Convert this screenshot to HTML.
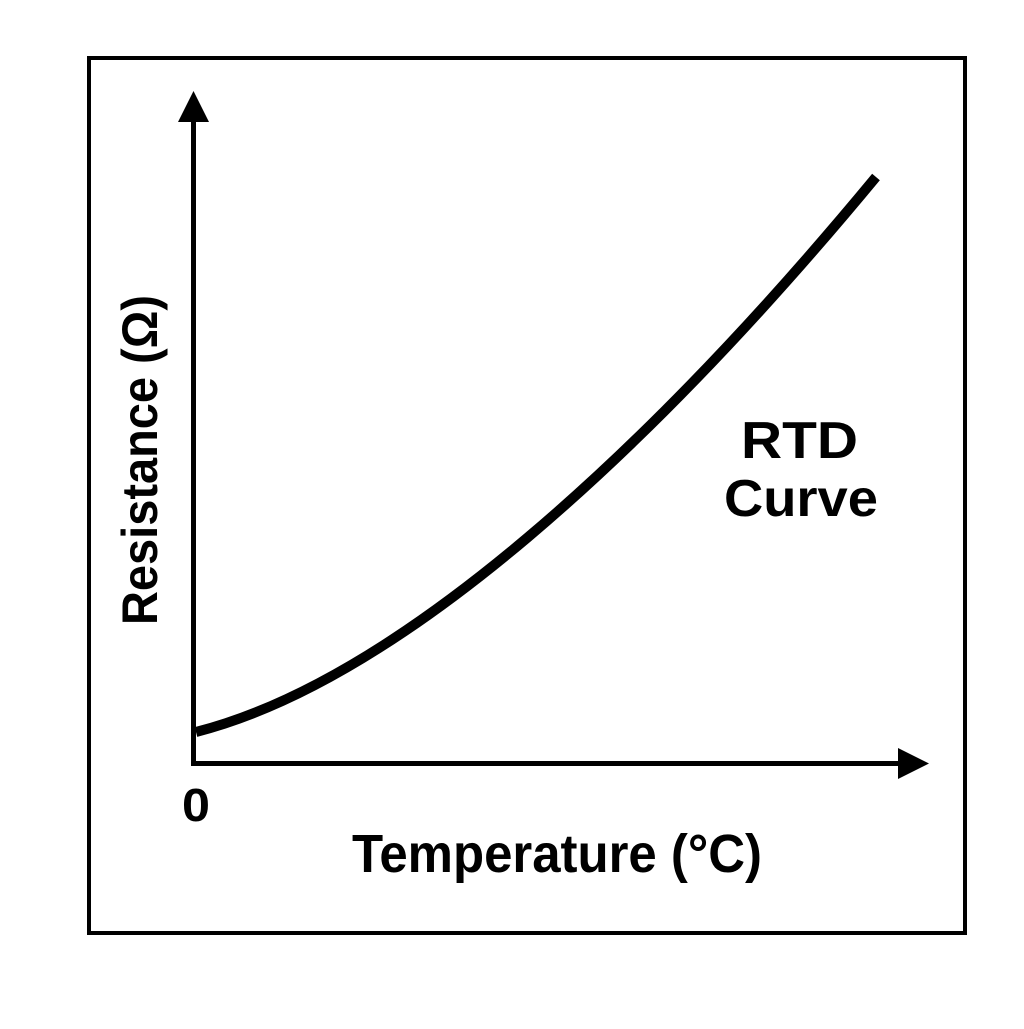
<!DOCTYPE html>
<html><head><style>html,body{margin:0;padding:0;background:#fff}</style></head>
<body>
<svg width="1024" height="1024" viewBox="0 0 1024 1024" xmlns="http://www.w3.org/2000/svg" font-family="Liberation Sans, sans-serif" font-weight="bold">
<rect x="0" y="0" width="1024" height="1024" fill="#fff"/>
<rect x="89" y="58" width="876" height="875" fill="none" stroke="#000" stroke-width="4"/>
<line x1="193.5" y1="118" x2="193.5" y2="766" stroke="#000" stroke-width="5"/>
<polygon points="193.5,91 178,122 209,122" fill="#000"/>
<line x1="191" y1="763.5" x2="902" y2="763.5" stroke="#000" stroke-width="5"/>
<polygon points="929,763.5 898,748 898,779" fill="#000"/>
<path d="M196,732 C400,680 650,450 876,177" fill="none" stroke="#000" stroke-width="10"/>
<text x="741" y="458" font-size="52" textLength="117" lengthAdjust="spacingAndGlyphs">RTD</text>
<text x="724" y="516" font-size="52" textLength="154" lengthAdjust="spacingAndGlyphs">Curve</text>
<text x="352" y="872" font-size="54" textLength="410" lengthAdjust="spacingAndGlyphs">Temperature (°C)</text>
<text x="182" y="821" font-size="46" textLength="28" lengthAdjust="spacingAndGlyphs">0</text>
<text transform="translate(157,625) rotate(-90)" font-size="50" textLength="330" lengthAdjust="spacingAndGlyphs">Resistance (Ω)</text>
</svg>
</body></html>
